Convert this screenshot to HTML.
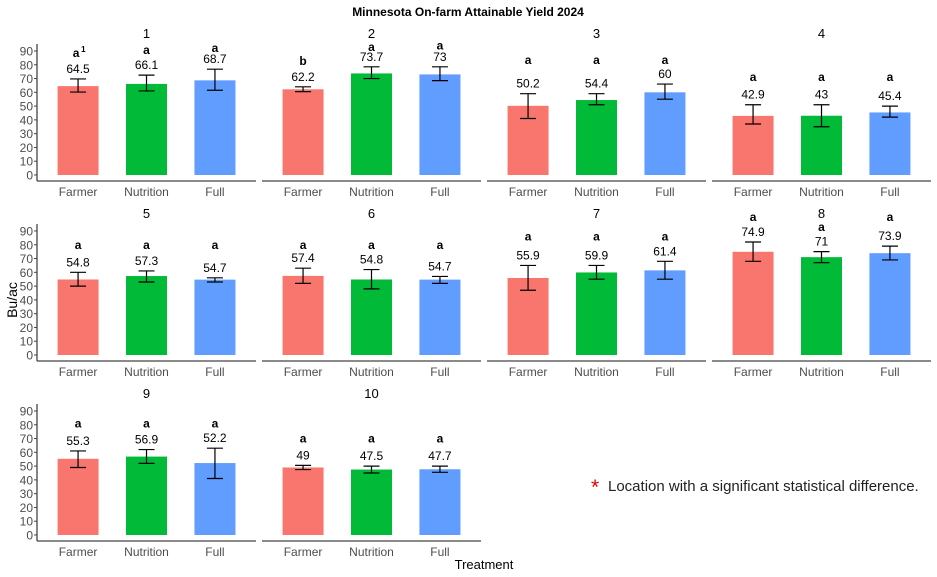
<!DOCTYPE html>
<html><head><meta charset="utf-8"><style>
body{margin:0;background:#fff;}
svg{display:block;font-family:"Liberation Sans",Arial,sans-serif;}
</style></head><body>
<svg id="c" width="937" height="577" viewBox="0 0 937 577">
<text x="468" y="16" text-anchor="middle" font-size="12" font-weight="bold" fill="#000">Minnesota On-farm Attainable Yield 2024</text>
<text transform="translate(17,300) rotate(-90)" text-anchor="middle" font-size="14" fill="#000">Bu/ac</text>
<text x="484" y="569" text-anchor="middle" font-size="13" fill="#000">Treatment</text>
<text x="591" y="494" font-size="21" fill="#e00000">*</text>
<text x="608" y="491" font-size="15" fill="#222">Location with a significant statistical difference.</text>
</svg>
<script>
const categories=["Farmer","Nutrition","Full"];
const panelNames=["1","2","3","4","5","6","7","8","9","10"];
const means=[[64.5,66.1,68.7],[62.2,73.7,73],[50.2,54.4,60],[42.9,43,45.4],[54.8,57.3,54.7],[57.4,54.8,54.7],[55.9,59.9,61.4],[74.9,71,73.9],[55.3,56.9,52.2],[49,47.5,47.7]];
const lower=[[60.2,61,61.5],[60.5,70,68.5],[41,51,55],[37,35,42],[50,53,53],[52,48,52],[47,55,55],[68,67,69],[49,52,41],[47.5,45,45.5]];
const upper=[[69.7,72.5,76.8],[64,78.5,78.5],[59,59,66],[51,51,50],[60,61,56],[63,62,57],[65,65,68],[82,75,79],[61,62,63],[50.5,50,50]];
const letters=[["a","a","a"],["b","a","a"],["a","a","a"],["a","a","a"],["a","a","a"],["a","a","a"],["a","a","a"],["a","a","a"],["a","a","a"],["a","a","a"]];
const letterPos=[[88.5,90.7,92],[82.7,93,94],[83.5,83.5,83.5],[71,71,71],[80,80,80],[80,80,80],[86,86,86],[100,93,100],[81,81,81],[70,70,70]];
const yTicks=[0,10,20,30,40,50,60,70,80,90];
const colors=["#F8766D","#00BA38","#619CFF"];
const svg=document.getElementById('c');
const NS="http://www.w3.org/2000/svg";
function mk(t,a,txt){const e=document.createElementNS(NS,t);for(const k in a)e.setAttribute(k,a[k]);if(txt!==undefined)e.textContent=txt;svg.appendChild(e);return e;}
const U=1.378, PW=219, STEP=68.44;
panelNames.forEach((nm,p)=>{
  const row=Math.floor(p/4), col=p%4;
  const left=37+col*225, zero=175+row*180;
  const y=v=>zero-v*U;
  const x=i=>left+STEP*(0.6+i);
  let e=mk('line',{x1:left,x2:left+PW,y1:zero+6,y2:zero+6,stroke:'#444','stroke-width':1.3});
  
  e=mk('text',{x:left+PW/2,y:zero-137,'text-anchor':'middle','font-size':13,fill:'#000'},nm);
  
  if(col===0){
    e=mk('line',{x1:left,x2:left,y1:zero-131,y2:zero+6,stroke:'#444','stroke-width':1.3});
    
    yTicks.forEach(t=>{
      let l=mk('line',{x1:left-3,x2:left,y1:y(t),y2:y(t),stroke:'#444'});
      
      let tx=mk('text',{x:left-4,y:y(t)+4.5,'text-anchor':'end','font-size':12,fill:'#4d4d4d'},String(t));
      
    });
  }
  categories.forEach((c,i)=>{
    const cx=x(i), m=means[p][i];
    let b=mk('rect',{x:cx-20.5,y:y(m),width:41,height:m*U,fill:colors[i]});
    
    const lo=y(lower[p][i]), hi=y(upper[p][i]);
    let eb=mk('path',{d:`M${cx},${lo}V${hi}M${cx-8},${lo}H${cx+8}M${cx-8},${hi}H${cx+8}`,stroke:'#000','stroke-width':1.2,fill:'none'});
    
    let v=mk('text',{x:cx,y:hi-6,'text-anchor':'middle','font-size':12,fill:'#000'},String(m));
    
    let lt=mk('text',{x:cx,y:y(letterPos[p][i])+4,'text-anchor':'middle','font-size':12,'font-weight':'bold',fill:'#000'},letters[p][i]);
    
    if(p===0&&i===0){let s=mk('text',{x:cx+3,y:y(letterPos[p][i])-1,'font-size':8,'font-weight':'bold',fill:'#000'},'1');
      
      lt.setAttribute('x',cx-2);}
    let xl=mk('text',{x:cx,y:zero+21,'text-anchor':'middle','font-size':12,fill:'#4d4d4d'},c);
    
  });
});
</script>
</body></html>
